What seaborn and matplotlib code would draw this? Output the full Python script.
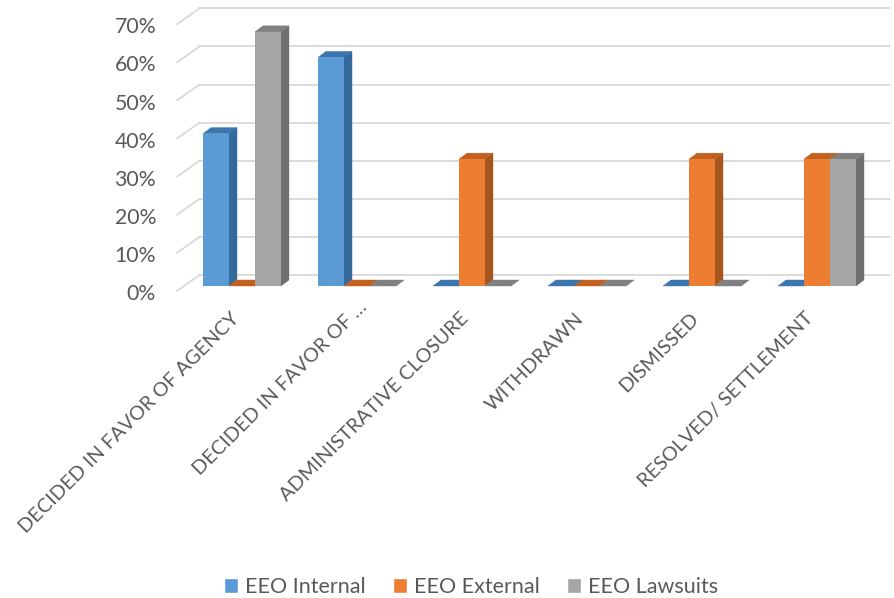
import matplotlib
matplotlib.use("Agg")
import matplotlib.pyplot as plt
from matplotlib.transforms import ScaledTranslation
import pandas as pd
import seaborn as sns

categories = [
    "DECIDED IN FAVOR OF AGENCY",
    "DECIDED IN FAVOR OF …",
    "ADMINISTRATIVE CLOSURE",
    "WITHDRAWN",
    "DISMISSED",
    "RESOLVED/ SETTLEMENT",
]
eeo_internal = [40, 60, 0, 0, 0, 0]
eeo_external = [0, 0, 33.3, 0, 33.3, 33.3]
eeo_lawsuits = [66.7, 0, 0, 0, 0, 33.3]
series_names = ["EEO Internal", "EEO External", "EEO Lawsuits"]
front_colors = ["#5B9BD5", "#ED7D31", "#A5A5A5"]
side_colors = ["#35699C", "#A5561F", "#6F6F6F"]
top_colors = ["#3C76AE", "#C2601F", "#808080"]
y_ticks = list(range(0, 71, 10))

TEXT = "#595959"
GRID = "#D9D9D9"

sns.set_theme(style="white")
plt.rcParams["font.family"] = ["Lato", "DejaVu Sans"]

df = pd.DataFrame({
    "category": categories * 3,
    "series": [n for n in series_names for _ in categories],
    "value": eeo_internal + eeo_external + eeo_lawsuits,
})

W, H = 895, 598
fig = plt.figure(figsize=(W / 100, H / 100), dpi=100, facecolor="white")
ax = fig.add_axes([184.5 / W, 1 - 286 / H, 690 / W, 266.7 / H])
ax.patch.set_alpha(0)

sns.barplot(data=df, x="category", y="value", hue="series", hue_order=series_names,
            palette=front_colors, saturation=1, width=0.678, gap=0, ax=ax)

ax.set_xlim(-0.5, 5.5)
ax.set_ylim(0, 70)
sns.despine(ax=ax, left=True, bottom=True)
ax.set_xlabel("")
ax.set_ylabel("")

# one screen pixel expressed in data units
px_x = 1 / 115
px_y = 10 / 38.1

# back wall gridlines and the slanted side-wall strokes
x_wall_front = -0.5 - 7.5 * px_x
x_wall_back = -0.5 + 15 * px_x
x_grid_end = -0.5 + 705.5 * px_x
for v in y_ticks:
    ax.plot([x_wall_back, x_grid_end], [v + 11 * px_y] * 2, color=GRID, lw=1.3,
            clip_on=False, zorder=1)
    ax.plot([x_wall_front, x_wall_back], [v - 5 * px_y, v + 11 * px_y], color=GRID, lw=1.3,
            clip_on=False, zorder=1)

# extrude each bar into a box, painting left to right
depth_x = 8 * px_x
depth_y = 6 * px_y
bars = []
for idx, container in enumerate(ax.containers):
    for patch in container.patches:
        bars.append((patch, idx))
bars.sort(key=lambda item: item[0].get_x())
z = 3.0
for patch, idx in bars:
    x0 = patch.get_x()
    w = patch.get_width()
    h = patch.get_height()
    ax.fill([x0 + w, x0 + w + depth_x, x0 + w + depth_x, x0 + w],
            [0, depth_y, h + depth_y, h],
            color=side_colors[idx], lw=0.3, clip_on=False, zorder=z)
    ax.fill([x0, x0 + w, x0 + w + depth_x, x0 + depth_x],
            [h, h, h + depth_y, h + depth_y],
            color=top_colors[idx], lw=0.3, clip_on=False, zorder=z + 0.01)
    patch.set_zorder(z + 0.02)
    patch.set_linewidth(0)
    z += 0.1

ax.set_yticks(y_ticks)
ax.set_yticklabels([f"{v}%" for v in y_ticks], fontsize=15.3, color=TEXT)
ax.tick_params(axis="y", length=0, pad=20.5)
ax.tick_params(axis="x", length=0, pad=22)
ax.set_xticks(range(len(categories)))
ax.set_xticklabels(categories, rotation=45, ha="right", va="center", rotation_mode="anchor",
                   fontsize=14.3, color=TEXT)

y_shift = ScaledTranslation(0, -6 / 100, fig.dpi_scale_trans)
for label in ax.get_yticklabels():
    label.set_transform(label.get_transform() + y_shift)
for label in ax.get_xticklabels():
    # the truncated label sits further along its diagonal than the others
    truncated = label.get_text().endswith("…")
    dx, dy = (7, 12) if truncated else (-6, 1)
    label.set_transform(label.get_transform()
                        + ScaledTranslation(dx / 100, dy / 100, fig.dpi_scale_trans))

handles, labels = ax.get_legend_handles_labels()
ax.legend_.remove()
fig.legend(handles, labels, loc="center", bbox_to_anchor=(471 / W, 1 - 587 / H), ncol=3,
           frameon=False, fontsize=15.5, labelcolor=TEXT, handlelength=0.65, handleheight=0.65,
           handletextpad=0.33, columnspacing=1.25)

fig.savefig("out.png", dpi=100, facecolor="white")
